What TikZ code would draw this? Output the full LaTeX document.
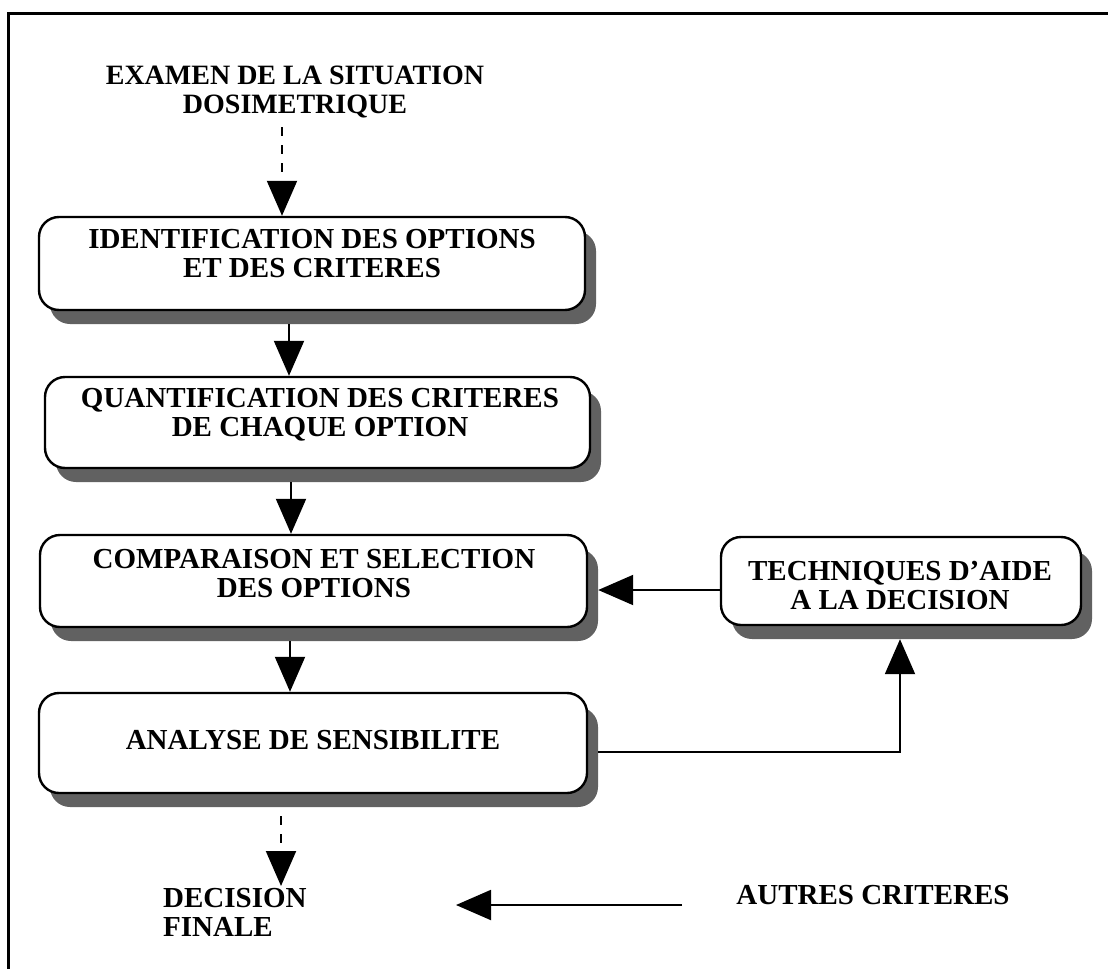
\documentclass[tikz,border=0pt]{standalone}
\usepackage{fontspec}
\setmainfont{Liberation Serif}
\usetikzlibrary{arrows.meta}
\begin{document}
\begin{tikzpicture}[x=1pt,y=-1pt,
  box/.style={draw, line width=2.4pt, rounded corners=20pt, fill=white, inner sep=0pt},
  shadowbox/.style={fill=black!62, rounded corners=20pt, inner sep=0pt},
  lbl/.style={font=\bfseries\fontsize{29}{29}\selectfont, align=center, inner sep=0pt},
  conn/.style={line width=2pt, -{Triangle[length=35pt,width=30pt]}},
  dconn/.style={conn, dash pattern=on 9pt off 9pt},
  frame/.style={line width=3pt}
]
\useasboundingbox (0,0) rectangle (1108,969);
% outer frame (only top and left visible)
\coordinate (ftl) at (8,13);
\coordinate (ftr) at (1108,13);
\coordinate (fbl) at (8,969);
\draw[frame] (ftr) -- (ftl) -- (fbl);

% title
\node[lbl, font=\bfseries\fontsize{28}{28.5}\selectfont] (title) at (295,92) {EXAMEN DE LA SITUATION\\DOSIMETRIQUE};

% box 1
\node[shadowbox, minimum width=546pt, minimum height=93pt] (b1s) at (323,277.5) {};
\node[box, minimum width=546pt, minimum height=93pt] (b1) at (312,263.5) {};
\node[lbl] (b1t) at (312,253.5) {IDENTIFICATION DES OPTIONS\\ET DES CRITERES};

% box 2
\node[shadowbox, minimum width=545pt, minimum height=91pt] (b2s) at (328.5,436.5) {};
\node[box, minimum width=545pt, minimum height=91pt] (b2) at (317.5,422.5) {};
\node[lbl] (b2t) at (320,415) {QUANTIFICATION DES CRITERES\\DE CHAQUE OPTION};

% box 3
\node[shadowbox, minimum width=547pt, minimum height=92pt] (b3s) at (324.5,595) {};
\node[box, minimum width=547pt, minimum height=92pt] (b3) at (313.5,581) {};
\node[lbl] (b3t) at (314,573.5) {COMPARAISON ET SELECTION\\DES OPTIONS};

% box 4
\node[shadowbox, minimum width=548pt, minimum height=100pt] (b4s) at (324,757) {};
\node[box, minimum width=548pt, minimum height=100pt] (b4) at (313,743) {};
\node[lbl] (b4t) at (313,740) {ANALYSE DE SENSIBILITE};

% techniques box
\node[shadowbox, minimum width=360pt, minimum height=88pt] (techs) at (912,595) {};
\node[box, minimum width=360pt, minimum height=88pt] (tech) at (901,581) {};
\node[lbl] (techt) at (900,585) {TECHNIQUES D'AIDE\\A LA DECISION};

% bottom texts
\node[lbl, align=left, anchor=west] (dec) at (163,912) {DECISION\\FINALE};
\node[lbl] (autres) at (873,895) {AUTRES CRITERES};

% helper coordinates
\coordinate (c0) at (282,127);
\coordinate (a1) at (289,0);
\coordinate (a2) at (291,0);
\coordinate (a3) at (290,0);
\coordinate (a4) at (281,0);
\coordinate (r1) at (0,590);
\coordinate (r2) at (0,752);
\coordinate (r3) at (900,0);
\coordinate (d1) at (281,886);
\coordinate (e1) at (682,905);
\coordinate (e2) at (456,905);

% connectors
\draw[dconn] (c0) -- (c0 |- b1.north);
\draw[conn] (b1s.south -| a1) -- (b2.north -| a1);
\draw[conn] (b2s.south -| a2) -- (b3.north -| a2);
\draw[conn] (b3s.south -| a3) -- (b4.north -| a3);
\draw[conn] (tech.west |- r1) -- (b3s.east |- r1);
\draw[conn] (b4s.east |- r2) -| (techs.south -| r3);
\draw[dconn, shorten <=9pt] (b4s.south -| a4) -- (d1);
\draw[conn] (e1) -- (e2);
\end{tikzpicture}
\end{document}
